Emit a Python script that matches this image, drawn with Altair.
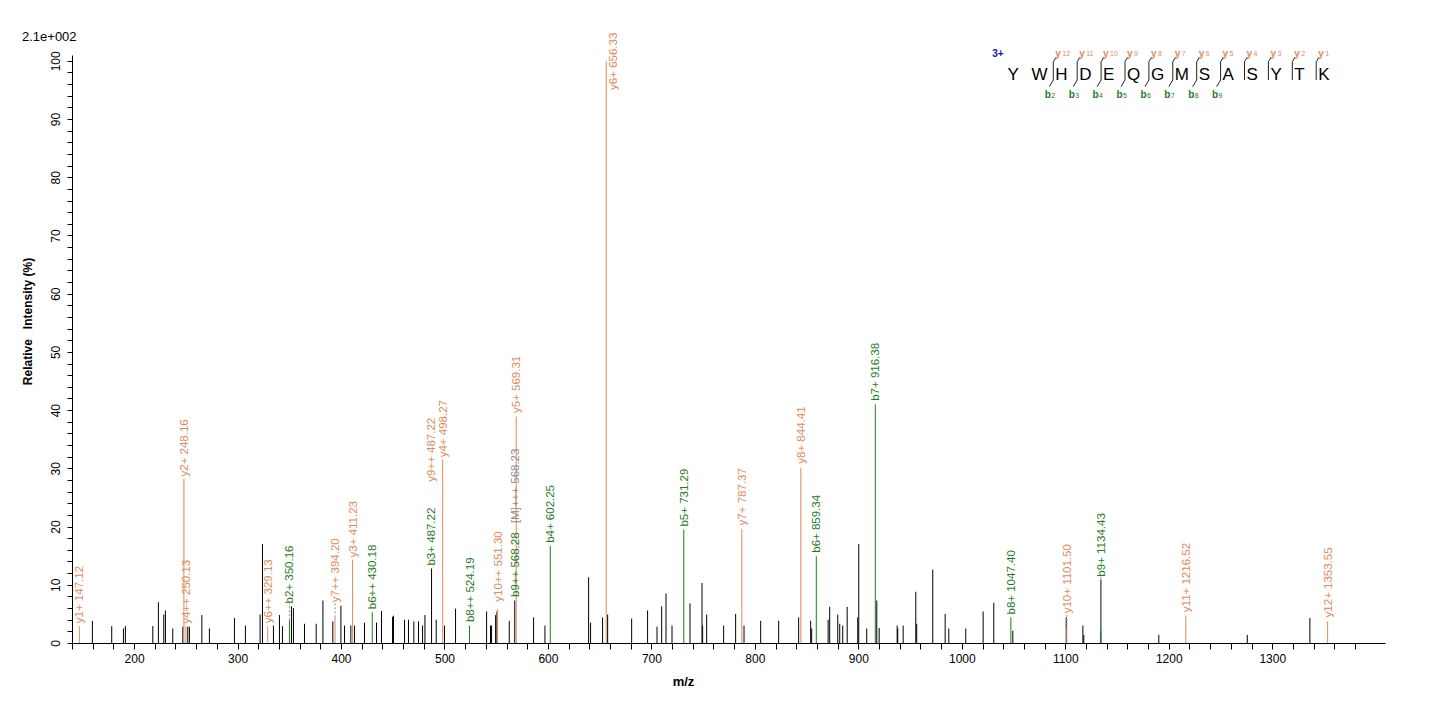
import pandas as pd
import altair as alt

# unassigned (black) peaks: m/z and relative intensity (%)
peak_mz = [159.7, 178.4, 189.7, 191.6, 218.1, 223.5, 228.7, 230.3, 237.4, 247.1,
           251.9, 253.5, 265.5, 272.8, 297.0, 307.6, 321.8, 324.1, 334.7, 340.5,
           343.4, 352.1, 354.0, 364.7, 376.0, 382.5, 392.1, 399.9, 403.4, 409.5,
           413.0, 422.7, 434.3, 439.1, 449.8, 450.7, 461.4, 465.2, 470.4, 474.9,
           478.8, 481.1, 487.5, 492.0, 500.0, 510.7, 540.7, 544.5, 545.5, 549.4,
           550.7, 562.6, 567.9, 586.1, 597.1, 639.3, 641.2, 652.8, 657.7, 680.9,
           696.3, 705.4, 709.9, 714.1, 719.9, 737.3, 748.9, 749.5, 753.4, 769.8,
           781.4, 789.5, 805.6, 823.0, 842.3, 853.9, 854.9, 870.8, 872.3, 880.1,
           882.0, 884.9, 889.2, 899.4, 900.4, 908.1, 917.8, 920.1, 937.5, 938.1,
           943.3, 955.5, 956.4, 971.9, 983.9, 987.4, 1003.8, 1020.6, 1030.9, 1049.3,
           1100.9, 1117.0, 1117.9, 1134.4, 1190.4, 1275.9, 1336.4]
peak_int = [3.8, 2.9, 2.5, 2.9, 2.9, 7.0, 4.9, 5.6, 2.5, 2.8,
            2.8, 2.8, 4.8, 2.5, 4.3, 3.0, 4.9, 17.0, 3.0, 4.8,
            2.9, 6.3, 6.0, 3.3, 3.3, 7.3, 3.7, 6.4, 3.0, 3.0,
            3.0, 3.5, 3.5, 5.5, 4.5, 4.7, 4.0, 4.0, 3.7, 3.7,
            3.0, 4.8, 12.8, 4.0, 3.0, 5.9, 5.4, 3.0, 3.0, 4.8,
            5.4, 3.8, 7.3, 4.4, 3.0, 11.3, 3.5, 4.4, 4.9, 4.2,
            5.6, 2.8, 6.3, 8.5, 3.0, 6.8, 10.3, 3.0, 4.9, 3.0,
            5.0, 3.0, 3.8, 3.8, 4.4, 3.8, 2.5, 4.0, 6.2, 4.9,
            3.3, 3.0, 6.2, 4.4, 17.0, 2.5, 7.3, 2.6, 3.0, 2.5,
            3.0, 8.8, 3.3, 12.6, 5.0, 2.5, 2.5, 5.4, 6.9, 2.1,
            4.4, 3.0, 1.4, 10.9, 1.4, 1.4, 4.3]

# assigned fragment ions
ion_name = ['y1+', 'y2+', 'y4++', 'y6++', 'b2+', 'y7++', 'y3+', 'b6++', 'b3+', 'y9++',
            'y4+', 'b8++', 'y10++', 'b9++', '[M]+++', 'y5+', 'b4+', 'y6+', 'b5+', 'y7+',
            'y8+', 'b6+', 'b7+', 'b8+', 'y10+', 'b9+', 'y11+', 'y12+']
ion_mz = [147.12, 248.16, 250.13, 329.13, 350.16, 394.20, 411.23, 430.18, 487.22, 487.22,
          498.27, 524.19, 551.30, 568.28, 568.23, 569.31, 602.25, 656.33, 731.29, 787.37,
          844.41, 859.34, 916.38, 1047.40, 1101.50, 1134.43, 1216.52, 1353.55]
ion_height = [2.9, 28.2, 2.9, 2.9, 3.9, 4.4, 14.3, 5.3, 0, 0,
              31.5, 3.0, 5.8, 0, 0, 38.9, 16.7, 100, 19.5, 19.6,
              30.1, 14.9, 41.0, 4.4, 2.4, 2.1, 4.7, 3.7]
ion_label_at = [3.4, 28.6, 3.3, 3.4, 6.8, 7.0, 14.7, 5.8, 13.3, 27.7,
                31.9, 3.6, 7.1, 7.9, 20.6, 39.5, 17.2, 95.0, 20.0, 20.2,
                30.8, 15.5, 41.6, 4.9, 5.1, 11.4, 5.3, 4.4]

peptide = 'YWHDEQGMSASYTK'
charge = '3+'
y_numbers = [12, 11, 10, 9, 8, 7, 6, 5, 4, 3, 2, 1]
b_numbers = [2, 3, 4, 5, 6, 7, 8, 9]

x_ticks = list(range(140, 1381, 20))
y_ticks = list(range(0, 101, 2))

ORANGE = '#E0895A'
GREEN = '#1E7B1E'
GREY = '#8C8C8C'
BLUE = '#1414B4'
FONT = 'Liberation Sans'

peaks = pd.DataFrame({'mz': peak_mz, 'intensity': peak_int})
ions = pd.DataFrame({'ion': ion_name, 'mz': ion_mz,
                     'height': ion_height, 'label_at': ion_label_at})
ions['kind'] = ions['ion'].str[0]
ions['label'] = ions['ion'] + ' ' + ions['mz'].map('{:.2f}'.format)

ion_colors = alt.Scale(domain=['y', 'b', '['], range=[ORANGE, GREEN, GREY])

x_axis = alt.Axis(values=x_ticks, format='d',
                  labelExpr="datum.value % 100 == 0 ? datum.label : ''",
                  tickSize=6, labelPadding=4, labelFontSize=12, labelFont=FONT,
                  labelOverlap=False, labelFlush=False, grid=False,
                  title='m/z', titleFont=FONT, titleFontSize=13, titleFontWeight='bold',
                  titleX=611, titleY=38, titleAlign='center', titleBaseline='middle')
y_axis = alt.Axis(values=y_ticks, format='d',
                  labelExpr="datum.value % 10 == 0 ? datum.label : ''",
                  tickSize=5, labelPadding=5, labelFontSize=12, labelFont=FONT,
                  labelAngle=270, labelAlign='center', labelBaseline='bottom',
                  labelOverlap=False, labelFlush=False, grid=False,
                  title='Relative\u00a0\u00a0 Intensity (%)', titleFont=FONT,
                  titleFontSize=12, titleFontWeight='bold', titleAngle=270,
                  titleX=-45, titleY=266, titleAlign='center', titleBaseline='middle')
x_scale = alt.Scale(domain=[140, 1409], nice=False, zero=False)
y_scale = alt.Scale(domain=[0, 101], nice=False)


def xenc(field='mz'):
    return alt.X(field + ':Q', scale=x_scale, axis=x_axis)


def yenc(field):
    return alt.Y(field + ':Q', scale=y_scale, axis=y_axis)


peak_lines = alt.Chart(peaks).mark_rule(strokeWidth=1, color='black').encode(
    x=xenc(), y=yenc('intensity'), y2=alt.datum(0)
)

ion_lines = alt.Chart(ions).mark_rule(strokeWidth=1).encode(
    x=xenc(), y=yenc('height'), y2=alt.datum(0),
    color=alt.Color('kind:N', scale=ion_colors, legend=None)
).transform_filter('datum.height > 0')

connectors = alt.Chart(ions).mark_rule(strokeWidth=1, strokeDash=[2, 2], color=GREY).encode(
    x=xenc(), y=yenc('height'), y2='label_at:Q'
).transform_filter('datum.height > 0 && datum.label_at - datum.height > 1.5')

labels = alt.Chart(ions).mark_text(
    angle=270, align='left', baseline='middle', fontSize=11.5, font=FONT, dy=1
).encode(
    x=xenc(), y=yenc('label_at'), text='label:N',
    color=alt.Color('kind:N', scale=ion_colors, legend=None)
).transform_filter('datum.height < 100')

# base peak label sits beside its line
top_label = alt.Chart(ions).mark_text(
    angle=270, align='left', baseline='middle', fontSize=11.5, font=FONT, dy=8
).encode(
    x=xenc(), y=yenc('label_at'), text='label:N',
    color=alt.Color('kind:N', scale=ion_colors, legend=None)
).transform_filter('datum.height >= 100')

exponent = alt.Chart(pd.DataFrame({'t': ['2.1e+002']})).mark_text(
    align='left', baseline='middle', fontSize=13, font=FONT, color='black'
).encode(x=alt.value(-50), y=alt.value(-18), text='t:N')

# peptide sequence with fragment markers (pixel layout)
step = 23.9
letters = pd.DataFrame({'ch': list(peptide)})
letters['px'] = 935.5 + step * letters.index
letters['py'] = 25

segs = []
ylabs = []
blabs = []
for j in range(1, len(peptide) - 1):
    mx = 981.3 + step * (j - 1)
    segs.append({'x0': mx, 'x1': mx, 'y0': 6.7, 'y1': 25})
    segs.append({'x0': mx, 'x1': mx + 2.7, 'y0': 6.7, 'y1': 2.3})
    ylabs.append({'px': mx + 2, 'n': str(y_numbers[j - 1])})
    if j <= len(b_numbers):
        segs.append({'x0': mx, 'x1': mx - 4, 'y0': 25, 'y1': 31.7})
        blabs.append({'px': mx - 8.5, 'n': str(b_numbers[j - 1])})
segs = pd.DataFrame(segs)
ylabs = pd.DataFrame(ylabs)
blabs = pd.DataFrame(blabs)

seq_text = alt.Chart(letters).mark_text(
    align='left', baseline='alphabetic', fontSize=17, font=FONT, color='black'
).encode(x=alt.X('px:Q', scale=None), y=alt.Y('py:Q', scale=None), text='ch:N')

seq_marks = alt.Chart(segs).mark_rule(strokeWidth=1, color='#222222').encode(
    x=alt.X('x0:Q', scale=None), x2='x1:Q',
    y=alt.Y('y0:Q', scale=None), y2='y1:Q'
)

y_letter = alt.Chart(ylabs).mark_text(
    align='left', baseline='alphabetic', fontSize=10, fontWeight='bold', font=FONT, color=ORANGE
).encode(x=alt.X('px:Q', scale=None), y=alt.value(1.5), text=alt.value('y'))
y_num = alt.Chart(ylabs).mark_text(
    align='left', baseline='alphabetic', fontSize=7, font=FONT, color=ORANGE, dx=7
).encode(x=alt.X('px:Q', scale=None), y=alt.value(1), text='n:N')

b_letter = alt.Chart(blabs).mark_text(
    align='left', baseline='alphabetic', fontSize=10, fontWeight='bold', font=FONT, color=GREEN
).encode(x=alt.X('px:Q', scale=None), y=alt.value(43), text=alt.value('b'))
b_num = alt.Chart(blabs).mark_text(
    align='left', baseline='alphabetic', fontSize=7, font=FONT, color=GREEN, dx=6.5
).encode(x=alt.X('px:Q', scale=None), y=alt.value(43), text='n:N')

charge_text = alt.Chart(pd.DataFrame({'t': [charge]})).mark_text(
    align='center', baseline='middle', fontSize=10, fontWeight='bold', font=FONT, color=BLUE
).encode(x=alt.value(926), y=alt.value(-1), text='t:N')

chart = alt.layer(
    peak_lines, ion_lines, connectors, labels, top_label, exponent,
    seq_text, seq_marks, y_letter, y_num, b_letter, b_num, charge_text
).properties(
    width=1313, height=588,
    autosize=alt.AutoSizeParams(type='none'),
    padding={'left': 64, 'top': 47, 'right': 30, 'bottom': 45}
).configure_view(stroke=None).configure_axis(
    domainColor='black', tickColor='black', labelColor='black', titleColor='black'
)

chart.save('out.html', embed_options={'renderer': 'svg', 'actions': False})
